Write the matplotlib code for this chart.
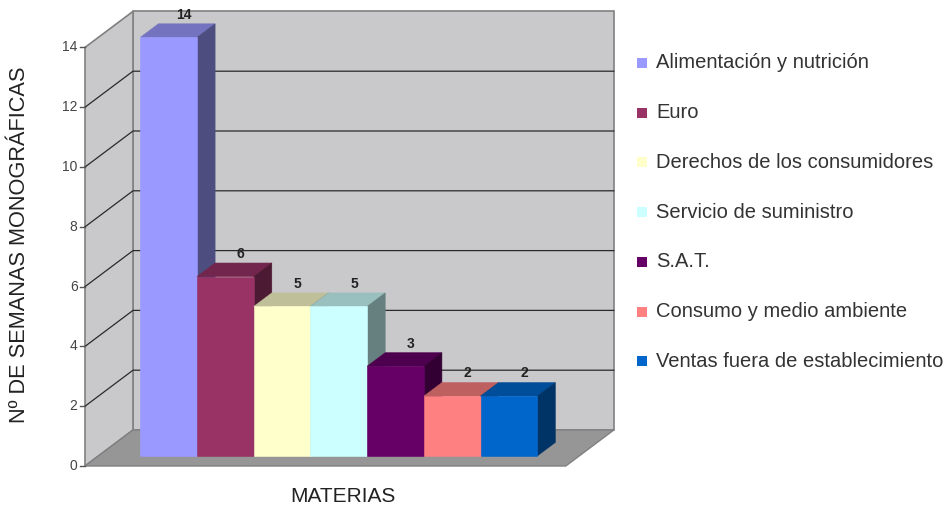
import matplotlib
matplotlib.use("Agg")
import matplotlib.pyplot as plt
from matplotlib.patches import Polygon, Rectangle
from matplotlib.colors import to_rgb

plt.rcParams['font.family'] = ['Liberation Sans', 'DejaVu Sans']

# ---- data ----
categories = [
    "Alimentación y nutrición",
    "Euro",
    "Derechos de los consumidores",
    "Servicio de suministro",
    "S.A.T.",
    "Consumo y medio ambiente",
    "Ventas fuera de establecimiento",
]
weeks = [14, 6, 5, 5, 3, 2, 2]
colors = ["#9999FF", "#993366", "#FFFFCC", "#CCFFFF", "#660066", "#FF8080", "#0066CC"]
y_ticks = [0, 2, 4, 6, 8, 10, 12, 14]
y_label = "Nº DE SEMANAS MONOGRÁFICAS"
x_label = "MATERIAS"

# ---- 3D-ish projection set-up (pixel scale of the plot area) ----
W_PX, H_PX = 947, 508
SX = 56.7          # pixels per category
SY = 29.9          # pixels per unit value
ORIG_X, ORIG_Y = 85, 466     # front-left corner of the floor, in pixels from top-left
DXW = 48 / SX      # full depth shift, in category units
DYW = 36 / SY      # full depth shift, in value units
GAP = 0.74         # side margin between wall and first/last bar
YMAX = y_ticks[-1]
N = len(categories)
WIDTH = N + 2 * GAP
D0, D1 = 0.28, 0.655   # depth range occupied by the bars


def P(x, v, d):
    return (x + d * DXW, v + d * DYW)


fig = plt.figure(figsize=(W_PX / 100, H_PX / 100), dpi=100)
ax = fig.add_axes([0, 0, 1, 1])
ax.set_xlim(-ORIG_X / SX, (W_PX - ORIG_X) / SX)
ax.set_ylim(-(H_PX - ORIG_Y) / SY, ORIG_Y / SY)
ax.axis("off")

wall_c = "#C9C9CB"
floor_c = "#969696"
edge_c = "#808080"

# walls and floor
ax.add_patch(Polygon([P(0, 0, 1), P(WIDTH, 0, 1), P(WIDTH, YMAX, 1), P(0, YMAX, 1)],
                     closed=True, fc=wall_c, ec=edge_c, lw=1.2, zorder=1))
ax.add_patch(Polygon([P(0, 0, 0), P(0, 0, 1), P(0, YMAX, 1), P(0, YMAX, 0)],
                     closed=True, fc=wall_c, ec=edge_c, lw=1.2, zorder=1))
ax.add_patch(Polygon([P(0, 0, 0), P(WIDTH, 0, 0), P(WIDTH, 0, 1), P(0, 0, 1)],
                     closed=True, fc=floor_c, ec=edge_c, lw=1.0, zorder=1))

# gridlines on side wall and back wall
for v in y_ticks[1:-1]:
    a, b, c = P(0, v, 0), P(0, v, 1), P(WIDTH, v, 1)
    ax.plot([a[0], b[0], c[0]], [a[1], b[1], c[1]], color="#2a2a2a", lw=0.9, zorder=2)

# value axis ticks and labels
tick_len = 5 / SX
for v in y_ticks:
    ax.plot([-tick_len, 0], [v, v], color="#555555", lw=1.0, zorder=2)
    ax.text(-tick_len - 2.5 / SX, v, str(v), ha="right", va="center",
            fontsize=10, color="#444444", zorder=3)


def shade(c, f):
    r, g, b = to_rgb(c)
    return (r * f, g * f, b * f)


# bars
for i, (val, col) in enumerate(zip(weeks, colors)):
    x0, x1 = GAP + i, GAP + i + 1
    top = [P(x0, val, D0), P(x1, val, D0), P(x1, val, D1), P(x0, val, D1)]
    side = [P(x1, 0, D0), P(x1, val, D0), P(x1, val, D1), P(x1, 0, D1)]
    front = [P(x0, 0, D0), P(x1, 0, D0), P(x1, val, D0), P(x0, val, D0)]
    z = 4 + i
    ax.add_patch(Polygon(top, closed=True, fc=shade(col, 0.75), ec=shade(col, 0.75), lw=0.4, zorder=z))
    ax.add_patch(Polygon(side, closed=True, fc=shade(col, 0.5), ec=shade(col, 0.5), lw=0.4, zorder=z))
    ax.add_patch(Polygon(front, closed=True, fc=col, ec=col, lw=0.4, zorder=z + 0.5))
    lx, ly = P(x0 + 0.5, val, 0.6)
    ax.annotate(str(val), (lx, ly), xytext=(0, 3), textcoords="offset points",
                ha="center", va="bottom", fontsize=10, fontweight="bold",
                color="#222222", zorder=20)

# axis titles
fig.text(20 / W_PX, 1 - 245 / H_PX, y_label, rotation=90, ha="center", va="center",
         fontsize=15.7, color="#222222")
fig.text(343 / W_PX, 1 - 496 / H_PX, x_label, ha="center", va="center",
         fontsize=15, color="#222222")

# legend
leg_y0, leg_dy = 63, 49.7
for i, (name, col) in enumerate(zip(categories, colors)):
    yc = leg_y0 + i * leg_dy
    fig.add_artist(Rectangle((637 / W_PX, 1 - (yc + 5) / H_PX), 10 / W_PX, 10 / H_PX,
                             transform=fig.transFigure, fc=col, ec="none"))
    fig.text(656 / W_PX, 1 - yc / H_PX, name, ha="left", va="center",
             fontsize=14.5, color="#333333")

fig.savefig("out.png", dpi=100)
